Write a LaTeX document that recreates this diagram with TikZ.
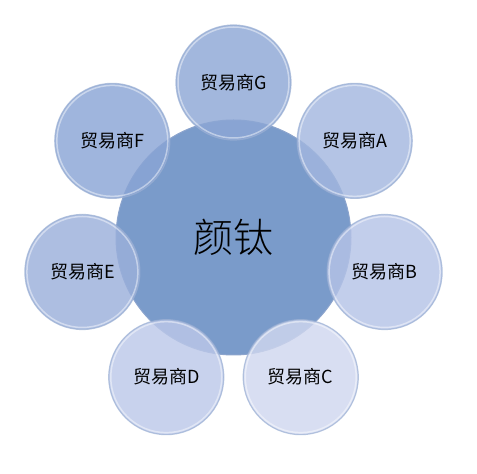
\documentclass[tikz,border=0pt]{standalone}
\usepackage{fontspec}
\usetikzlibrary{calc}
\newfontfamily\cjk{Noto Sans CJK SC}
\newfontfamily\cjklight{Noto Sans CJK SC Light}
\definecolor{cmain}{HTML}{7A9BCA}
\definecolor{cG}{HTML}{8DA7D5}
\definecolor{cA}{HTML}{A3B7DF}
\definecolor{cB}{HTML}{B5C3E7}
\definecolor{cC}{HTML}{D0D7EF}
\definecolor{cD}{HTML}{BCC8E9}
\definecolor{cE}{HTML}{9BB0DB}
\definecolor{cF}{HTML}{8AA5D5}
\definecolor{rim}{HTML}{6F8DC0}
\tikzset{
  mainbub/.style={circle, minimum size=235pt, inner sep=0pt, fill=cmain, draw=rim!80!white, line width=1pt, font=\cjklight\fontsize{40}{44}\selectfont},
  bub/.style={circle, minimum size=115pt, inner sep=0pt, fill=#1, fill opacity=0.82, text opacity=1, draw=rim!70!white, draw opacity=0.7, line width=1.2pt, font=\cjk\fontsize{18}{20}\selectfont},
  hl/.style={draw=white, draw opacity=0.45, line width=1.5pt}
}
\begin{document}
\begin{tikzpicture}[x=1pt,y=1pt]
\useasboundingbox (0,0) rectangle (477,474);
\node[mainbub] (m) at (233.5,236.5) {颜钛};
\foreach \n/\ang/\col in {G/90/cG, A/38.57/cA, B/-12.86/cB, C/-64.29/cC, D/-115.71/cD, E/-167.14/cE, F/141.43/cF}{
  \node[bub=\col] (\n) at ($(m.center)+(\ang:155)$) {贸易商\n};
  \draw[hl] (\n.center) circle (55.5);
}
\end{tikzpicture}
\end{document}
